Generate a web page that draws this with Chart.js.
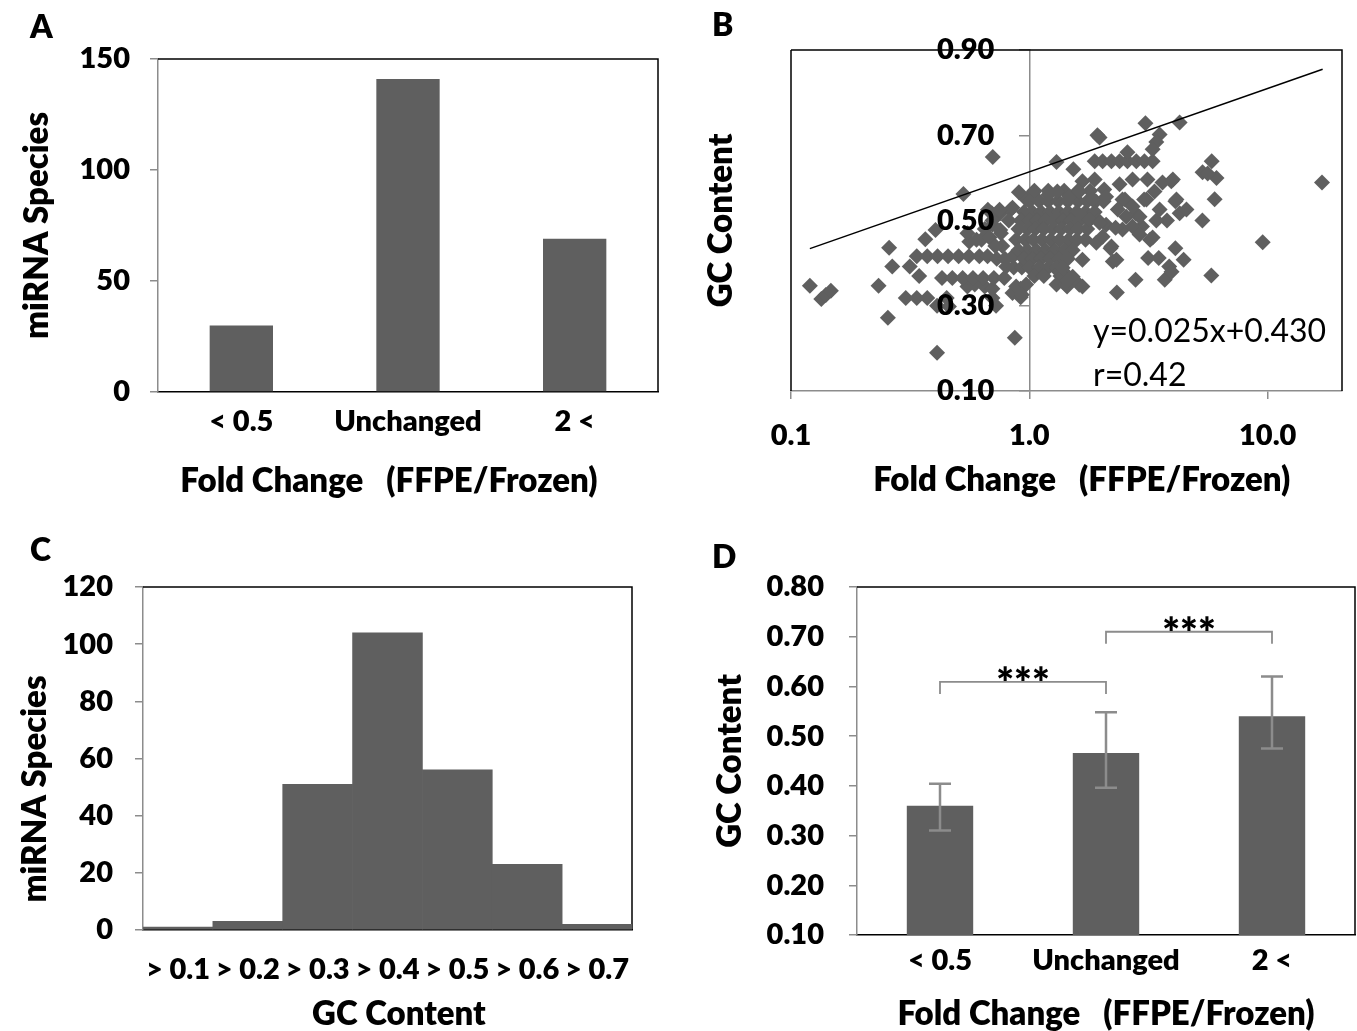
<!DOCTYPE html>
<html><head><meta charset="utf-8">
<script src="https://cdn.jsdelivr.net/npm/chart.js@4/dist/chart.umd.min.js"></script>
<style>
html,body{margin:0;padding:0;background:#fff;}
#wrap{position:relative;width:1357px;height:1031px;overflow:hidden;font-family:Lato,'Open Sans',sans-serif;background:#fff;}
canvas{position:absolute;}
.lbl{position:absolute;font-weight:800;font-size:32px;line-height:32px;color:#000;}
.eq{position:absolute;font-size:32px;line-height:32px;color:#000;white-space:nowrap;}
</style></head><body>
<div id="wrap">
<canvas id="cA" width="680" height="510" style="left:0;top:0;width:680px;height:510px"></canvas>
<canvas id="cB" width="677" height="510" style="left:680px;top:0;width:677px;height:510px"></canvas>
<canvas id="cC" width="680" height="491" style="left:0;top:540px;width:680px;height:491px"></canvas>
<canvas id="cD" width="677" height="491" style="left:680px;top:540px;width:677px;height:491px"></canvas>
<div class="lbl" style="left:30px;top:10px">A</div>
<div class="lbl" style="left:712px;top:8px">B</div>
<div class="lbl" style="left:30px;top:533px">C</div>
<div class="lbl" style="left:712px;top:540px">D</div>
<div class="eq" style="left:1093px;top:314px">y=0.025x+0.430</div>
<div class="eq" style="left:1093px;top:358px">r=0.42</div>
</div>
<script>
// ---------- data ----------
// Panel A
const catA = ['< 0.5', 'Unchanged', '2 <'];
const countA = [30, 141, 69];
const ticksA = [0, 50, 100, 150];
// Panel C
const catC = ['> 0.1', '> 0.2', '> 0.3', '> 0.4', '> 0.5', '> 0.6', '> 0.7'];
const countC = [1, 3, 51, 104, 56, 23, 2];
const ticksC = [0, 20, 40, 60, 80, 100, 120];
// Panel D
const catD = ['< 0.5', 'Unchanged', '2 <'];
const meanD = [0.36, 0.466, 0.54];
const lowD = [0.31, 0.396, 0.475];
const highD = [0.404, 0.548, 0.62];
const ticksD = [0.1, 0.2, 0.3, 0.4, 0.5, 0.6, 0.7, 0.8];
const sigFrom = [0, 1];
const sigTo = [1, 2];
const sigLevel = [0.609, 0.71];
const sigText = ['***', '***'];
// Panel B  [fold change, GC content]
const scatterPoints = [
 [0.120,0.347],[0.134,0.316],[0.140,0.325],[0.147,0.335],[0.233,0.347],[0.258,0.436],[0.266,0.392],[0.255,0.272],[0.41,0.19],[0.869,0.225],
 [0.303,0.318],[0.337,0.318],[0.373,0.318],[0.41,0.300],[0.45,0.318],[0.46,0.298],[0.70,0.318],[0.725,0.300],
 [0.55,0.345],[0.59,0.350],[0.65,0.345],[0.70,0.340],
 [0.43,0.365],[0.475,0.365],[0.525,0.365],[0.58,0.365],[0.64,0.365],[0.71,0.365],[0.785,0.365],[0.345,0.370],
 [0.315,0.392],[0.337,0.416],[0.373,0.416],[0.412,0.416],[0.456,0.416],[0.505,0.416],[0.558,0.416],[0.617,0.416],[0.668,0.416],[0.73,0.410],[0.79,0.410],
 [0.366,0.456],[0.404,0.478],[0.529,0.562],[0.702,0.649],
 [0.56,0.450],[0.63,0.455],[0.70,0.490],[0.77,0.440],[0.85,0.415],[0.55,0.470],[0.60,0.455],[0.65,0.480],[0.68,0.460],[0.72,0.440],[0.76,0.470],
 [0.755,0.517],[0.834,0.525],[0.696,0.517],[0.70,0.500],[0.82,0.500],[0.755,0.478],[0.67,0.525],[0.75,0.525],[0.85,0.530],
 [0.97,0.550],[0.904,0.566],[1.04,0.566],
 [0.85,0.330],[0.92,0.340],[0.92,0.320],[0.88,0.345],[0.97,0.350],[0.93,0.326],[0.80,0.392],[0.86,0.390],[0.93,0.390],[0.97,0.400],
 [1.05,0.57],[1.2,0.57],[1.4,0.57],[1.6,0.57],[1.8,0.57],
 [1.0,0.545],[1.1,0.545],[1.2,0.545],[1.32,0.545],[1.45,0.545],[1.6,0.545],[1.75,0.545],[1.9,0.545],[2.05,0.545],
 [0.95,0.52],[1.03,0.52],[1.12,0.52],[1.22,0.52],[1.33,0.52],[1.45,0.52],[1.58,0.52],[1.72,0.52],[1.88,0.52],
 [0.92,0.50],[1.0,0.50],[1.08,0.50],[1.17,0.50],[1.27,0.50],[1.38,0.50],[1.5,0.50],[1.63,0.50],[1.78,0.50],[1.95,0.50],
 [0.9,0.48],[0.98,0.48],[1.06,0.48],[1.15,0.48],[1.25,0.48],[1.36,0.48],[1.48,0.48],[1.6,0.48],[1.75,0.48],
 [0.88,0.455],[0.96,0.455],[1.04,0.455],[1.13,0.455],[1.23,0.455],[1.34,0.455],[1.46,0.455],[1.58,0.455],[1.72,0.455],
 [0.9,0.43],[0.98,0.43],[1.07,0.43],[1.17,0.43],[1.28,0.43],[1.4,0.43],[1.52,0.43],
 [0.95,0.41],[1.03,0.41],[1.12,0.41],[1.22,0.41],[1.33,0.41],[1.45,0.41],
 [1.0,0.39],[1.1,0.39],[1.2,0.39],[1.3,0.39],
 [1.05,0.37],[1.15,0.37],[1.35,0.37],[1.45,0.37],
 [1.3,0.35],[1.42,0.35],
 [1.44,0.345],[1.62,0.349],[1.33,0.380],[1.38,0.370],
 [1.30,0.637],[1.53,0.620],[1.93,0.700],[1.97,0.695],
 [1.88,0.639],[2.03,0.639],[2.21,0.639],[2.39,0.639],[2.58,0.639],[2.81,0.639],[3.04,0.639],[3.29,0.639],
 [3.07,0.728],[4.27,0.730],[3.52,0.702],[3.41,0.684],[3.29,0.667],[2.58,0.660],
 [5.82,0.639],[5.33,0.613],[6.1,0.600],[5.6,0.610],[5.99,0.550],[5.32,0.500],
 [16.9,0.589],[9.53,0.449],[5.8,0.371],
 [4.44,0.408],[4.10,0.435],[3.70,0.361],[3.86,0.392],[3.15,0.412],[3.49,0.412],[2.79,0.361],[2.33,0.331],[2.24,0.404],[2.19,0.435],
 [2.97,0.486],[3.21,0.455],[3.78,0.500],[3.41,0.500],[4.27,0.517],[4.10,0.545],[3.94,0.592],[3.03,0.549],[2.79,0.517],[2.52,0.549],
 [3.95,0.380],[2.32,0.408],[2.21,0.439],[3.29,0.460],[2.46,0.479],[2.71,0.486],[2.90,0.467],[2.10,0.490],[2.30,0.483],
 [1.67,0.345],[1.52,0.368],[1.38,0.389],[1.45,0.360],[1.91,0.448],[2.03,0.462],[1.67,0.408],[1.79,0.502],[1.97,0.495],
 [1.67,0.592],[1.88,0.596],[2.06,0.573],[2.39,0.585],[2.71,0.596],[3.13,0.596],[3.62,0.589],[4.00,0.596],[3.35,0.568],
 [1.31,0.568],[1.47,0.556],[1.62,0.568],[1.84,0.549],[2.10,0.556],[2.46,0.549],[2.71,0.533],[3.10,0.549],[3.52,0.526],
 [4.14,0.549],[4.56,0.526],[2.55,0.509],[2.90,0.509],[2.35,0.526],[1.20,0.560]
];
const trendFold = [0.12, 17];
const trendGC = [0.434, 0.855];
const ticksBx = [0.1, 1, 10];
const ticksBy = [0.1, 0.3, 0.5, 0.7, 0.9];
const yAxisCross = 1;      // fold change where the B value axis crosses
const yLabelAnchor = 0.713; // fold change where the B axis labels end

// ---------- styles ----------
const FONT = 'Lato';
const GREY = '#8c8c8c';
const BAR = '#5f5f5f';
const tickFont = {family: FONT, size: 29, weight: '800'};
const titleFont = {family: FONT, size: 33, weight: '800', lineHeight: 1};

const framePlugin = {
  id: 'frame',
  beforeDatasetsDraw(chart, args, opts) {
    const {ctx, chartArea: {left, right, top, bottom}} = chart;
    ctx.save();
    ctx.strokeStyle = '#000';
    ctx.lineWidth = 1.5;
    ctx.beginPath();
    if (opts.left) { ctx.moveTo(left, bottom); ctx.lineTo(left, top); }
    ctx.moveTo(left, top); ctx.lineTo(right, top); ctx.lineTo(right, bottom);
    ctx.stroke();
    ctx.restore();
  }
};

const errPlugin = {
  id: 'errbars',
  afterDatasetsDraw(chart) {
    const {ctx} = chart;
    const y = chart.scales.y;
    const meta = chart.getDatasetMeta(0);
    ctx.save();
    ctx.strokeStyle = GREY;
    ctx.lineWidth = 2.5;
    meta.data.forEach((bar, i) => {
      const x = bar.x;
      const yl = y.getPixelForValue(lowD[i]);
      const yh = y.getPixelForValue(highD[i]);
      ctx.beginPath();
      ctx.moveTo(x, yl); ctx.lineTo(x, yh);
      ctx.moveTo(x - 11, yl); ctx.lineTo(x + 11, yl);
      ctx.moveTo(x - 11, yh); ctx.lineTo(x + 11, yh);
      ctx.stroke();
    });
    ctx.lineWidth = 1.8;
    sigFrom.forEach((a, k) => {
      const x1 = meta.data[a].x;
      const x2 = meta.data[sigTo[k]].x;
      const yt = y.getPixelForValue(sigLevel[k]);
      const yd = y.getPixelForValue(sigLevel[k] - 0.024);
      ctx.strokeStyle = GREY;
      ctx.beginPath();
      ctx.moveTo(x1, yd); ctx.lineTo(x1, yt); ctx.lineTo(x2, yt); ctx.lineTo(x2, yd);
      ctx.stroke();
      ctx.fillStyle = '#000';
      ctx.font = '800 42px ' + FONT;
      ctx.textAlign = 'center';
      ctx.textBaseline = 'alphabetic';
      ctx.fillText(sigText[k], (x1 + x2) / 2, yt + 16);
    });
    ctx.restore();
  }
};

const common = {responsive: false, animation: false, devicePixelRatio: 1};

function setTicks(arr) { return s => { s.ticks = arr.map(v => ({value: v})); }; }

// ---------- Panel A ----------
new Chart(document.getElementById('cA'), {
  type: 'bar',
  data: {labels: catA, datasets: [{data: countA, backgroundColor: BAR, barPercentage: 0.38, categoryPercentage: 1}]},
  options: Object.assign({}, common, {
    layout: {padding: {top: 59, right: 22, left: 0, bottom: 0}},
    plugins: {legend: {display: false}, tooltip: {enabled: false}, frame: {}},
    scales: {
      x: {
        afterFit: s => { s.height = 118; },
        grid: {display: false},
        border: {display: true, color: '#000', width: 1.5},
        ticks: {font: tickFont, color: '#000', padding: 4, maxRotation: 0, autoSkip: false},
        title: {display: true, text: 'Fold Change   (FFPE/Frozen)     ', font: titleFont, color: '#000', padding: {top: 0, bottom: 12}}
      },
      y: {
        min: 0, max: 150,
        afterBuildTicks: setTicks(ticksA),
        afterFit: s => { s.width = 158; },
        grid: {display: true, drawOnChartArea: false, drawTicks: true, tickLength: 8, color: GREY, lineWidth: 1.5},
        border: {display: true, color: GREY, width: 1.5},
        ticks: {font: tickFont, color: '#000', padding: 20},
        title: {display: true, text: 'miRNA Species', font: titleFont, color: '#000', padding: {top: 21, bottom: 0}}
      }
    }
  }),
  plugins: [framePlugin]
});

// ---------- Panel B ----------
new Chart(document.getElementById('cB'), {
  type: 'scatter',
  data: {datasets: [
    {type: 'line', data: trendFold.map((f, i) => ({x: f, y: trendGC[i]})), borderColor: '#000', borderWidth: 1.5, pointRadius: 0, fill: false, tension: 0},
    {type: 'scatter', data: scatterPoints.map(p => ({x: p[0], y: p[1]})), pointStyle: 'rectRot', pointRadius: 8, backgroundColor: BAR, borderColor: BAR, borderWidth: 0}
  ]},
  options: Object.assign({}, common, {
    layout: {padding: {top: 50, right: 15, left: 0, bottom: 0}},
    plugins: {legend: {display: false}, tooltip: {enabled: false}, frame: {left: true}},
    scales: {
      x: {
        type: 'logarithmic', min: 0.1, max: 20.5, position: 'bottom',
        afterBuildTicks: setTicks(ticksBx),
        afterFit: s => { s.height = 119; },
        grid: {display: true, drawOnChartArea: false, drawTicks: true, tickLength: 8, color: GREY, lineWidth: 1.5},
        border: {display: true, color: GREY, width: 1.5},
        ticks: {font: tickFont, color: '#000', padding: 19, maxRotation: 0, autoSkip: false, callback: v => Number(v).toFixed(1)},
        title: {display: true, text: '    Fold Change   (FFPE/Frozen)', font: titleFont, color: '#000', padding: {top: 0, bottom: 13}}
      },
      y: {
        type: 'linear', min: 0.1, max: 0.9, position: {x: yLabelAnchor}, z: 2,
        afterBuildTicks: setTicks(ticksBy),
        grid: {display: false},
        border: {display: false},
        ticks: {font: tickFont, color: '#000', padding: 0, z: 2, callback: v => Number(v).toFixed(2)}
      },
      yLine: {
        type: 'linear', min: 0.1, max: 0.9, position: {x: yAxisCross},
        afterBuildTicks: setTicks(ticksBy),
        grid: {display: true, drawOnChartArea: false, drawTicks: true, tickLength: 10, color: GREY, lineWidth: 1.5},
        border: {display: true, color: GREY, width: 1.5},
        ticks: {display: false}
      },
      yl: {
        type: 'linear', min: 0.1, max: 0.9, position: 'left',
        afterFit: s => { s.width = 111; },
        ticks: {display: false}, grid: {display: false}, border: {display: false},
        title: {display: true, text: 'GC Content', font: titleFont, color: '#000', padding: {top: 25, bottom: 0}}
      }
    }
  }),
  plugins: [framePlugin]
});

// ---------- Panel C ----------
new Chart(document.getElementById('cC'), {
  type: 'bar',
  data: {labels: catC, datasets: [{data: countC, backgroundColor: BAR, barPercentage: 1, categoryPercentage: 1}]},
  options: Object.assign({}, common, {
    layout: {padding: {top: 47, right: 48, left: 0, bottom: 0}},
    plugins: {legend: {display: false}, tooltip: {enabled: false}, frame: {}},
    scales: {
      x: {
        afterFit: s => { s.height = 101; },
        grid: {display: false},
        border: {display: true, color: '#000', width: 1.5},
        ticks: {font: tickFont, color: '#000', padding: 14, maxRotation: 0, autoSkip: false},
        title: {display: true, text: '   GC Content', font: titleFont, color: '#000', padding: {top: 0, bottom: 0}}
      },
      y: {
        min: 0, max: 120,
        afterBuildTicks: setTicks(ticksC),
        afterFit: s => { s.width = 143; },
        grid: {display: true, drawOnChartArea: false, drawTicks: true, tickLength: 8, color: GREY, lineWidth: 1.5},
        border: {display: true, color: GREY, width: 1.5},
        ticks: {font: tickFont, color: '#000', padding: 22},
        title: {display: true, text: 'miRNA Species        ', font: titleFont, color: '#000', padding: {top: 19, bottom: 0}}
      }
    }
  }),
  plugins: [framePlugin]
});

// ---------- Panel D ----------
new Chart(document.getElementById('cD'), {
  type: 'bar',
  data: {labels: catD, datasets: [{data: meanD, backgroundColor: BAR, barPercentage: 0.4, categoryPercentage: 1}]},
  options: Object.assign({}, common, {
    layout: {padding: {top: 47, right: 2, left: 0, bottom: 0}},
    plugins: {legend: {display: false}, tooltip: {enabled: false}, frame: {}},
    scales: {
      x: {
        afterFit: s => { s.height = 96; },
        grid: {display: false},
        border: {display: true, color: '#000', width: 1.5},
        ticks: {font: tickFont, color: '#000', padding: 0, maxRotation: 0, autoSkip: false},
        title: {display: true, text: 'Fold Change   (FFPE/Frozen)', font: titleFont, color: '#000', padding: {top: 0, bottom: 0}}
      },
      y: {
        min: 0.1, max: 0.8,
        afterBuildTicks: setTicks(ticksD),
        afterFit: s => { s.width = 177; },
        grid: {display: true, drawOnChartArea: false, drawTicks: true, tickLength: 8, color: GREY, lineWidth: 1.5},
        border: {display: true, color: GREY, width: 1.5},
        ticks: {font: tickFont, color: '#000', padding: 25, callback: v => Number(v).toFixed(2)},
        title: {display: true, text: 'GC Content', font: titleFont, color: '#000', padding: {top: 34, bottom: 0}}
      }
    }
  }),
  plugins: [framePlugin, errPlugin]
});
</script>
</body></html>
